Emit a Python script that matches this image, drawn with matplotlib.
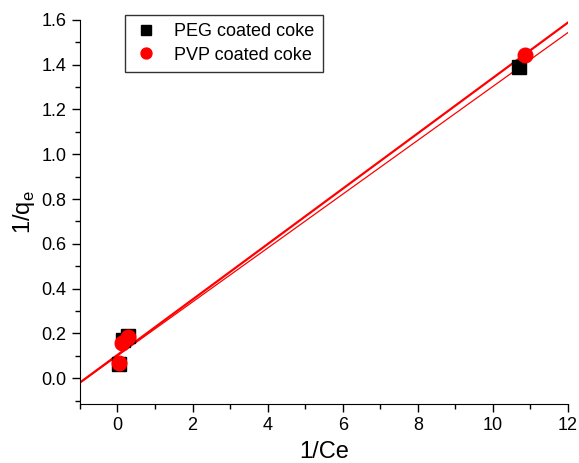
import numpy as np
import matplotlib as mpl
mpl.use("Agg")
from matplotlib import pyplot as plt
from matplotlib.ticker import MultipleLocator

mpl.rc('font', family='Liberation Sans')

# Data
peg_x = [0.05, 0.16, 0.27, 10.69]
peg_y = [0.063, 0.17, 0.188, 1.39]
pvp_x = [0.05, 0.13, 0.27, 10.85]
pvp_y = [0.067, 0.156, 0.183, 1.444]

# Fitted lines (slope, intercept)
peg_fit = (0.1203, 0.100)
pvp_fit = (0.1237, 0.104)
fit_x = np.array([-1, 12])

fig = plt.figure(figsize=(5.79, 4.63), dpi=100)
ax = fig.add_axes([0.138, 0.127, 0.843, 0.830])

ax.plot(fit_x, peg_fit[0] * fit_x + peg_fit[1], color='red', lw=0.9, zorder=2)
ax.plot(fit_x, pvp_fit[0] * fit_x + pvp_fit[1], color='red', lw=1.6, zorder=2)
ax.plot(peg_x, peg_y, 's', color='black', ms=9.5, ls='none', label='PEG coated coke', zorder=3)
ax.plot(pvp_x, pvp_y, 'o', color='red', ms=10.5, ls='none', label='PVP coated coke', zorder=4)

ax.set_xlim(-1, 12)
ax.set_ylim(-0.116, 1.6)
ax.xaxis.set_major_locator(MultipleLocator(2))
ax.xaxis.set_minor_locator(MultipleLocator(1))
ax.yaxis.set_major_locator(MultipleLocator(0.2))
ax.yaxis.set_minor_locator(MultipleLocator(0.1))
ax.yaxis.set_major_formatter(mpl.ticker.FormatStrFormatter('%.1f'))
ax.tick_params(which='major', direction='out', length=6, width=1, labelsize=13)
ax.tick_params(which='minor', direction='out', length=3.5, width=1)
ax.spines['top'].set_visible(False)
ax.spines['right'].set_visible(False)

ax.set_xlabel('1/Ce', fontsize=17, labelpad=5)
ax.set_ylabel('1/q$_\\mathregular{e}$', fontsize=17, labelpad=3)

leg = ax.legend(loc='upper left', bbox_to_anchor=(0.073, 1.036), fontsize=13, frameon=True,
                fancybox=False, edgecolor='black', handletextpad=0.8, borderpad=0.45,
                labelspacing=0.35, handlelength=1.5, markerscale=0.75)
leg.get_frame().set_linewidth(1.0)

fig.savefig('out.png', dpi=100)
